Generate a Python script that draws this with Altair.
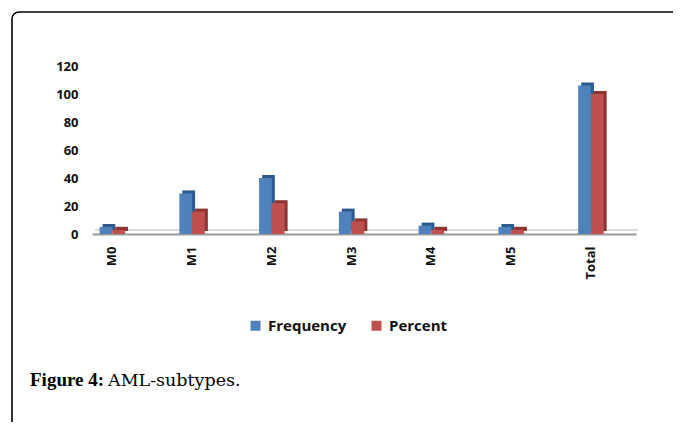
import altair as alt
import pandas as pd

categories = ["M0", "M1", "M2", "M3", "M4", "M5", "Total"]
frequency = [5, 29, 40, 16, 6, 5, 106]
percent = [3, 16, 22, 9, 3, 3, 100]
series = ["Frequency", "Percent"]
front_colors = ["#4F81BD", "#C0504D"]
side_colors = ["#2F5A8E", "#8E3431"]
y_ticks = [0, 20, 40, 60, 80, 100, 120]

rows = []
for c, f, p in zip(categories, frequency, percent):
    rows.append({"cat": c, "series": series[0], "value": f})
    rows.append({"cat": c, "series": series[1], "value": p})
df = pd.DataFrame(rows)
one = pd.DataFrame({"k": [0]})

W, H = 544, 168

x_enc = alt.X("cat:N", sort=categories,
              scale=alt.Scale(paddingInner=0.68, paddingOuter=0.25, align=0.19),
              axis=alt.Axis(title=None, labelAngle=-90, labelAlign="right",
                            labelBaseline="middle", labelFont="Open Sans",
                            labelFontWeight="bold", labelFontSize=13,
                            labelColor="#111", labelPadding=12, ticks=False,
                            domainColor="#9a9a9a", domainWidth=2))
y_enc = alt.Y("value:Q", scale=alt.Scale(domain=[0, 120]),
              axis=alt.Axis(title=None, values=y_ticks, grid=False, ticks=False,
                            domain=False, labelFont="Open Sans",
                            labelFontWeight="bold", labelFontSize=13,
                            labelColor="#111", labelPadding=14))

base = alt.Chart(df)

floor = alt.Chart(one).mark_rule(color="#b5b5b5", strokeWidth=1.2).encode(
    x=alt.value(3), x2=alt.value(W + 2), y=alt.value(H - 4))

side = base.mark_bar(yOffset=-3).encode(
    x=x_enc,
    xOffset=alt.XOffset("series:N", sort=series, scale=alt.Scale(range=[3, 28.5])),
    y=y_enc,
    color=alt.Color("series:N", scale=alt.Scale(domain=series, range=side_colors),
                    legend=None))

front = base.mark_bar().encode(
    x=x_enc,
    xOffset=alt.XOffset("series:N", sort=series, scale=alt.Scale(range=[0, 25.5])),
    y=y_enc,
    color=alt.Color("series:N", scale=alt.Scale(domain=series, range=front_colors),
                    legend=alt.Legend(title=None, orient="none", legendX=156,
                                      legendY=252, direction="horizontal",
                                      symbolType="square", symbolSize=100,
                                      symbolStrokeWidth=0, labelFont="Open Sans",
                                      labelFontWeight="bold", labelFontSize=15,
                                      labelColor="#111", columnPadding=22,
                                      labelOffset=5)))

frame = alt.Chart(one).mark_rect(fill=None, stroke="#000", strokeWidth=1.6,
                                 cornerRadius=7).encode(
    x=alt.value(-80), x2=alt.value(760), y=alt.value(-54), y2=alt.value(460))

cap1 = alt.Chart(one).mark_text(text="Figure 4:", font="Liberation Serif",
                                fontWeight="bold", fontSize=19, align="left",
                                baseline="alphabetic", color="#000").encode(
    x=alt.value(-62), y=alt.value(320))
cap2 = alt.Chart(one).mark_text(text="AML-subtypes.", font="DejaVu Serif",
                                fontSize=17.5, align="left", baseline="alphabetic",
                                color="#000").encode(
    x=alt.value(16), y=alt.value(320))

chart = alt.layer(frame, floor, side, front, cap1, cap2).resolve_scale(
    color="independent", xOffset="independent").properties(
    width=W, height=H,
    autosize=alt.AutoSizeParams(type="none"),
    padding={"left": 84, "top": 58, "right": 37, "bottom": 188},
    background="white",
).configure_view(stroke=None)

chart.save("out.html", embed_options={"renderer": "svg", "actions": False})
